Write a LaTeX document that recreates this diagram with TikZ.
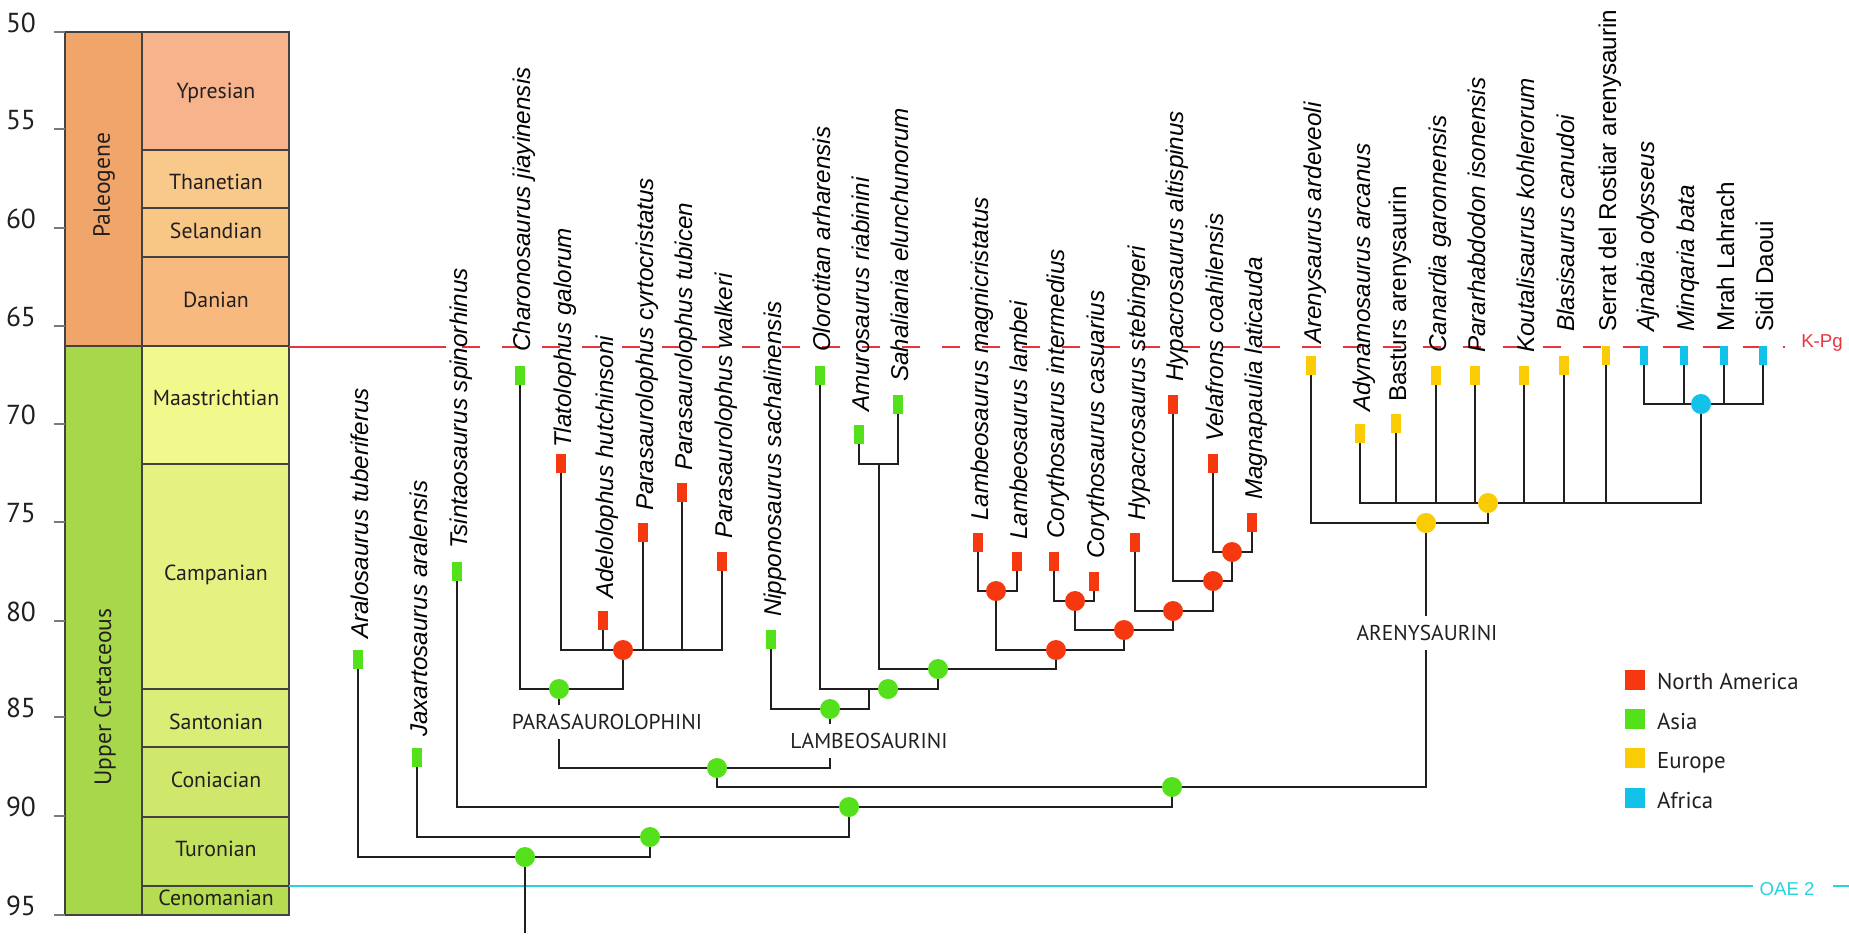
\documentclass[tikz,border=0pt]{standalone}
\usepackage{fontspec}
\setmainfont{Liberation Sans}
\newfontfamily\mysans{PT Sans}
\definecolor{cNA}{HTML}{F5380F}
\definecolor{cAS}{HTML}{55E01C}
\definecolor{cEU}{HTML}{FACC05}
\definecolor{cAF}{HTML}{12C2E8}
\definecolor{kpg}{HTML}{E8353C}
\definecolor{oae}{HTML}{2AD2DE}
\definecolor{ink}{HTML}{231F20}
\definecolor{paleo}{HTML}{F0A66A}
\definecolor{ypr}{HTML}{F7B38C}
\definecolor{than}{HTML}{F9C98B}
\definecolor{sel}{HTML}{F9C785}
\definecolor{dan}{HTML}{F8B97F}
\definecolor{ucret}{HTML}{A7D84C}
\definecolor{maas}{HTML}{F1F98D}
\definecolor{camp}{HTML}{E5F281}
\definecolor{sant}{HTML}{D9ED77}
\definecolor{coni}{HTML}{CFE86C}
\definecolor{turo}{HTML}{C3E25F}
\definecolor{ceno}{HTML}{B6DC52}
\begin{document}
\begin{tikzpicture}[x=0.01cm,y=-0.01cm,line width=0.6pt,
  tree/.style={draw=ink, line width=0.62pt},
  jn/.style={circle, fill=#1, draw=none, minimum size=0.2cm, inner sep=0pt},
  tsbox/.style={draw=ink!85, line width=0.6pt},
  stage/.style={font=\mysans\fontsize{6.2pt}{7pt}\selectfont, text=ink, inner sep=0pt},
  period/.style={font=\mysans\fontsize{6.7pt}{8pt}\selectfont, text=ink, rotate=90, inner sep=0pt},
  age/.style={font=\mysans\fontsize{7.8pt}{9pt}\selectfont, text=ink, anchor=east, inner sep=0pt},
  clade/.style={font=\mysans\fontsize{6.1pt}{7pt}\selectfont, text=ink, inner sep=0pt, minimum height=0.32cm},
  leg/.style={font=\mysans\fontsize{6.5pt}{8pt}\selectfont, text=ink, anchor=base west, inner sep=0pt},
  legsq/.style={fill=#1, draw=none, minimum size=0.2cm, inner sep=0pt},
]
\useasboundingbox[fill=white] (0,0) rectangle (1849,948);

% ---------- time scale ----------
\fill[paleo] (65,32) rectangle (142,346);
\fill[ucret] (65,346) rectangle (142,915);
\fill[ypr] (142,32) rectangle (289,150);
\fill[than] (142,150) rectangle (289,208);
\fill[sel] (142,208) rectangle (289,257);
\fill[dan] (142,257) rectangle (289,346);
\fill[maas] (142,346) rectangle (289,464);
\fill[camp] (142,464) rectangle (289,689);
\fill[sant] (142,689) rectangle (289,747);
\fill[coni] (142,747) rectangle (289,817);
\fill[turo] (142,817) rectangle (289,886);
\fill[ceno] (142,886) rectangle (289,915);
\draw[tsbox] (65,32) rectangle (142,346);
\draw[tsbox] (65,346) rectangle (142,915);
\foreach \a/\b in {32/150,150/208,208/257,257/346,346/464,464/689,689/747,747/817,817/886,886/915}
  \draw[tsbox] (142,\a) rectangle (289,\b);
\node[period] (pPal) at (104,185) {Paleogene};
\node[period] (pUC) at (105,697) {Upper Cretaceous};
\foreach \y/\t in {93/Ypresian,182/Thanetian,231/Selandian,300/Danian,398/Maastrichtian,575/Campanian,722/Santonian,780/Coniacian,849/Turonian,898/Cenomanian}
  \node[stage] at (216,\y) {\t};
\foreach \y/\t in {32/50,129/55,228/60,326/65,424/70,522/75,621/80,717/85,816/90,915/95}{
  \draw[draw=ink!60, line width=0.8pt] (54,\y) -- (65,\y);
  \node[age] at (37,\y-9) {\t};
}

% ---------- K-Pg and OAE 2 ----------
\coordinate (kA) at (289,347);
\coordinate (kB) at (446,347);
\coordinate (kC) at (462,347);
\coordinate (kD) at (1785,347);
\draw[kpg, line width=0.8pt] (kA) -- (kB);
\draw[kpg, line width=0.8pt, dash pattern=on 0.18cm off 0.22cm] (kC) -- (kD);
\node[text=kpg, font=\fontsize{5.3pt}{6pt}\selectfont, inner sep=0pt] (kpgl) at (1822,343) {K-Pg};
\coordinate (oA) at (289,886);
\coordinate (oB) at (1753,886);
\coordinate (oC) at (1833,886);
\coordinate (oD) at (1849,886);
\draw[oae, line width=0.8pt] (oA) -- (oB);
\draw[oae, line width=0.8pt] (oC) -- (oD);
\node[text=oae, font=\fontsize{5.3pt}{6pt}\selectfont, inner sep=0pt] (oael) at (1787,889) {OAE 2};

% ---------- taxa ----------
\foreach \id/\cx/\ty/\col/\bw/\ly/\fs/\lab in {
 aralo/358/650/cAS/1/640/\itshape/Aralosaurus tuberiferus,
 jaxa/417/748/cAS/1/738/\itshape/Jaxartosaurus aralensis,
 tsin/457/562/cAS/1/550/\itshape/Tsintaosaurus spinorhinus,
 charo/520/366/cAS/1/353/\itshape/Charonosaurus jiayinensis,
 tlato/561/454/cNA/1/449/\itshape/Tlatolophus galorum,
 adelo/603/611/cNA/1/600/\itshape/Adelolophus hutchinsoni,
 pcyrt/643/523/cNA/1/512/\itshape/Parasaurolophus cyrtocristatus,
 ptubi/682/483/cNA/1/472/\itshape/Parasaurolophus tubicen,
 pwalk/722/552/cNA/1/540/\itshape/Parasaurolophus walkeri,
 nippo/771/630/cAS/1/618/\itshape/Nipponosaurus sachalinensis,
 oloro/820/366/cAS/1/353/\itshape/Olorotitan arharensis,
 amuro/859/425/cAS/1/413/\itshape/Amurosaurus riabinini,
 sahal/898/395/cAS/1/383/\itshape/Sahaliania elunchunorum,
 lmagn/978/533/cNA/1/522/\itshape/Lambeosaurus magnicristatus,
 llamb/1017/552/cNA/1/541/\itshape/Lambeosaurus lambei,
 cinte/1054/552/cNA/1/540/\itshape/Corythosaurus intermedius,
 ccasu/1094/572/cNA/1/560/\itshape/Corythosaurus casuarius,
 hsteb/1135/533/cNA/1/522/\itshape/Hypacrosaurus stebingeri,
 halti/1173/395/cNA/1/383/\itshape/Hypacrosaurus altispinus,
 velaf/1213/454/cNA/1/443/\itshape/Velafrons coahilensis,
 magna/1252/513/cNA/1/501/\itshape/Magnapaulia laticauda,
 areny/1311/356/cEU/1/345/\itshape/Arenysaurus ardeveoli,
 adyna/1360/424/cEU/1/413/\itshape/Adynamosaurus arcanus,
 bastu/1396/414/cEU/1/403/\upshape/Basturs arenysaurin,
 canar/1436/366/cEU/1/354/\itshape/Canardia garonnensis,
 parar/1475/366/cEU/1/354/\itshape/Pararhabdodon isonensis,
 kouta/1524/366/cEU/1/354/\itshape/Koutalisaurus kohlerorum,
 blasi/1564/356/cEU/1/333/\itshape/Blasisaurus canudoi,
 serra/1606/346/cEU/0.75/333/\upshape/Serrat del Rostiar arenysaurin,
 ajnab/1644/346/cAF/0.75/333/\itshape/Ajnabia odysseus,
 minqa/1684/346/cAF/0.75/333/\itshape/Minqaria bata,
 mrah/1724/346/cAF/0.75/333/\upshape/Mrah Lahrach,
 sidi/1763/346/cAF/0.75/333/\upshape/Sidi Daoui}{
 \node[fill=\col, draw=none, inner sep=0pt, outer sep=0pt, minimum width=\bw mm, minimum height=0.19cm] (\id) at (\cx,\ty+9.5) {};
 \node[rotate=90, anchor=base west, inner sep=0pt, font=\fontsize{6.9pt}{8pt}\selectfont] (l\id) at (\cx+10,\ly) {\fs\lab};
}

% ---------- junctions ----------
\coordinate (r0) at (525,857);
\coordinate (rootend) at (525,933);
\coordinate (j1) at (650,837);
\coordinate (j2) at (849,807);
\coordinate (j3) at (1172,787);
\coordinate (j4) at (717,768);
\coordinate (pa) at (559,689);
\coordinate (pr) at (623,650);
\coordinate (la) at (830,709);
\coordinate (j5) at (888,689);
\coordinate (j5s) at (869,689);
\coordinate (j6) at (938,669);
\coordinate (am) at (879,464);
\coordinate (j7) at (1056,650);
\coordinate (lm) at (996,591);
\coordinate (j8) at (1124,630);
\coordinate (co) at (1075,601);
\coordinate (j9) at (1173,611);
\coordinate (j10) at (1213,581);
\coordinate (j11) at (1232,552);
\coordinate (ar) at (1426,523);
\coordinate (eu) at (1488,503);
\coordinate (af) at (1701,404);

% ---------- clade labels ----------
\node[clade] (parl) at (607,722) {PARASAUROLOPHINI};
\node[clade] (laml) at (869,741) {LAMBEOSAURINI};
\node[clade] (arl) at (1427,633) {ARENYSAURINI};

% ---------- branches ----------
\draw[tree] (r0) -- (rootend);
\draw[tree] (aralo.south) |- (r0) -| (j1);
\draw[tree] (jaxa.south) |- (j1) -| (j2);
\draw[tree] (tsin.south) |- (j2) -| (j3);
\draw[tree] (j4) |- (j3) -| (ar |- arl.south);
\draw[tree] (ar) -- (ar |- arl.north);
% Parasaurolophini
\draw[tree] (pa) -- (pa |- parl.north);
\draw[tree] (pa |- parl.south) |- (j4) -| (la |- laml.south);
\draw[tree] (la) -- (la |- laml.north);
\draw[tree] (charo.south) |- (pa) -| (pr);
\draw[tree] (tlato.south) |- (pr) -| (pwalk.south);
\foreach \t in {adelo,pcyrt,ptubi} \draw[tree] (\t.south) -- (\t.south |- pr);
% Lambeosaurini
\draw[tree] (nippo.south) |- (la) -| (j5s);
\draw[tree] (oloro.south) |- (j5) -| (j6);
\draw[tree] (am) |- (j6) -| (j7);
\draw[tree] (amuro.south) |- (am) -| (sahal.south);
\draw[tree] (lm) |- (j7) -| (j8);
\draw[tree] (lmagn.south) |- (lm) -| (llamb.south);
\draw[tree] (co) |- (j8) -| (j9);
\draw[tree] (cinte.south) |- (co) -| (ccasu.south);
\draw[tree] (hsteb.south) |- (j9) -| (j10);
\draw[tree] (halti.south) |- (j10) -| (j11);
\draw[tree] (velaf.south) |- (j11) -| (magna.south);
% Arenysaurini
\draw[tree] (areny.south) |- (ar) -| (eu);
\draw[tree] (adyna.south) |- (eu) -| (af);
\foreach \t in {bastu,canar,parar,kouta,blasi,serra} \draw[tree] (\t.south) -- (\t.south |- eu);
\draw[tree] (ajnab.south) |- (af) -| (sidi.south);
\foreach \t in {minqa,mrah} \draw[tree] (\t.south) -- (\t.south |- af);

% ---------- node dots ----------
\foreach \c/\col in {r0/cAS,j1/cAS,j2/cAS,j3/cAS,j4/cAS,pa/cAS,la/cAS,j5/cAS,j6/cAS,
  pr/cNA,j7/cNA,lm/cNA,j8/cNA,co/cNA,j9/cNA,j10/cNA,j11/cNA,ar/cEU,eu/cEU,af/cAF}
  \node[jn=\col] (d\c) at (\c) {};

% ---------- legend ----------
\node[legsq=cNA] (kNA) at (1635,680) {};
\node[legsq=cAS] (kAS) at (1635,719) {};
\node[legsq=cEU] (kEU) at (1635,758) {};
\node[legsq=cAF] (kAF) at (1635,798) {};
\node[leg] (tNA) at (1656,689) {North America};
\node[leg] (tAS) at (1656,729) {Asia};
\node[leg] (tEU) at (1656,768) {Europe};
\node[leg] (tAF) at (1656,808) {Africa};
\end{tikzpicture}
\end{document}
